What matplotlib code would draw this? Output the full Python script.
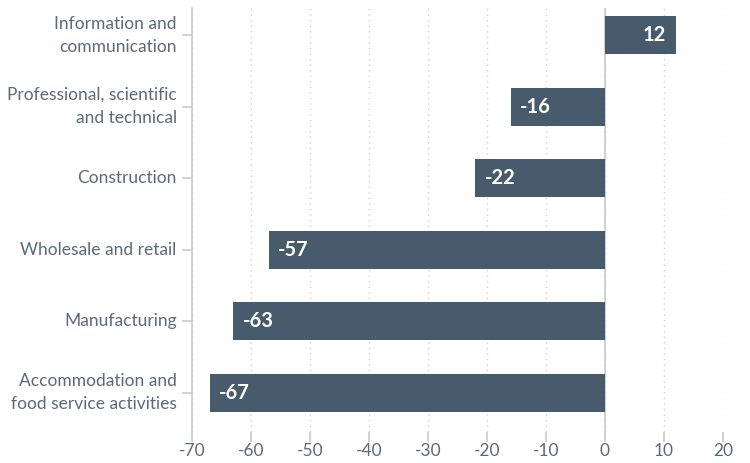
import matplotlib
matplotlib.use("Agg")
import matplotlib.pyplot as plt

categories = ["Information and\ncommunication", "Professional, scientific\nand technical",
              "Construction", "Wholesale and retail", "Manufacturing",
              "Accommodation and\nfood service activities"]
values = [12, -16, -22, -57, -63, -67]
xticks = [-70, -60, -50, -40, -30, -20, -10, 0, 10, 20]

plt.rcParams['font.family'] = ['Lato', 'DejaVu Sans']
bar_color = "#475b6c"
text_color = "#5a6a7a"
line_color = "#c9c9c9"

fig = plt.figure(figsize=(7.5, 4.63), dpi=100)
ax = fig.add_axes([192/750, 1-432/463, (723-192)/750, (432-8)/463])

ypos = list(range(len(categories)))
ax.barh(ypos, values, height=0.53, color=bar_color, zorder=3)
ax.set_xlim(-70, 20)
ax.set_ylim(5.55, -0.38)
ax.set_xticks(xticks)
ax.set_xticklabels([str(t) for t in xticks])
ax.set_yticks(ypos)
ax.set_yticklabels(categories, linespacing=1.55)
for lbl in ax.get_yticklabels():
    lbl.set_verticalalignment("center")

for s in ["top", "right", "bottom"]:
    ax.spines[s].set_visible(False)
ax.spines["left"].set_color(line_color)
ax.spines["left"].set_linewidth(1.2)

ax.tick_params(axis="y", length=7, width=1.2, color=line_color, labelcolor=text_color,
               labelsize=12.5, pad=4)
ax.tick_params(axis="x", length=7, width=1.2, color=line_color, labelcolor=text_color,
               labelsize=12.5, pad=1, direction="out")

ax.grid(axis="x", linestyle=(0, (1, 3)), color="#cfcfcf", linewidth=1, zorder=0)
ax.axvline(0, color=line_color, linewidth=1.2, zorder=2)

for y, v in zip(ypos, values):
    if v < 0:
        ax.text(v + 1.6, y, str(v), color="white", fontweight="bold", fontsize=14.5,
                ha="left", va="center", zorder=4)
    else:
        ax.text(v - 1.6, y, str(v), color="white", fontweight="bold", fontsize=14.5,
                ha="right", va="center", zorder=4)

fig.savefig("out.png", dpi=100)
